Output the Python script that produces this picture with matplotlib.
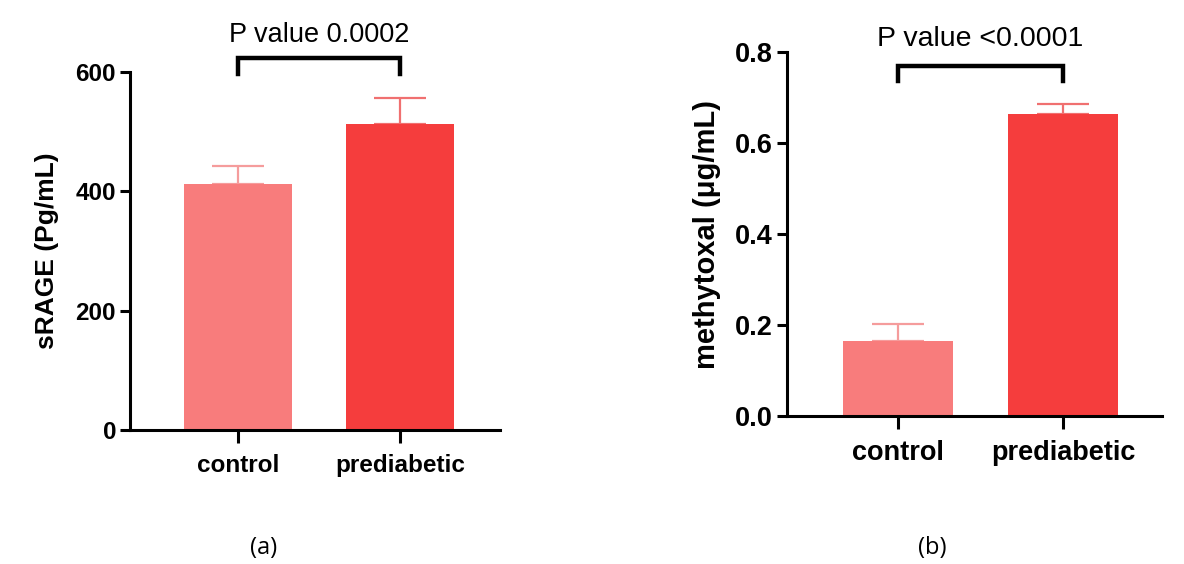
import matplotlib.pyplot as plt

groups = ["control", "prediabetic"]
srage_mean = [412, 513]
srage_err = [30, 43]
methyl_mean = [0.165, 0.664]
methyl_err = [0.037, 0.022]
bar_colors = ["#F87C7C", "#F53D3D"]
err_colors = ["#F59C9C", "#F07070"]

plt.rcParams['font.family'] = ['Liberation Sans', 'DejaVu Sans']

fig = plt.figure(figsize=(11.84, 5.64), dpi=100)
ax1 = fig.add_axes([0.1098, 0.2376, 0.3125, 0.6348])
ax2 = fig.add_axes([0.6647, 0.2624, 0.3167, 0.6454])


def draw_panel(ax, means, errs, ylim, yticks, ytl, ylabel, ptext, bracket_y, leg, ptext_gap, xlim,
               label, label_x, fs, yfs, pfs, lpad):
    x = range(len(groups))
    for i in x:
        ax.bar(i, means[i], width=0.667, color=bar_colors[i], zorder=2)
        ax.errorbar(i, means[i], yerr=[[0], [errs[i]]], color=err_colors[i],
                    capsize=19, elinewidth=1.6, capthick=1.6, zorder=1)
    ax.set_xlim(*xlim)
    ax.set_ylim(*ylim)
    ax.set_yticks(yticks)
    ax.set_yticklabels(ytl, fontsize=fs, fontweight='bold')
    ax.set_xticks(list(x))
    ax.set_xticklabels(groups, fontsize=fs, fontweight='bold')
    ax.set_ylabel(ylabel, fontsize=yfs, fontweight='bold', labelpad=lpad)
    for s in ['top', 'right']:
        ax.spines[s].set_visible(False)
    for s in ['left', 'bottom']:
        ax.spines[s].set_linewidth(2.2)
    ax.tick_params(axis='y', length=7, width=2.2, pad=3)
    ax.tick_params(axis='x', length=9, width=2.2, pad=8)
    ax.plot([0, 0, 1, 1], [bracket_y - leg, bracket_y, bracket_y, bracket_y - leg],
            color='black', lw=3.2, clip_on=False, solid_joinstyle='miter')
    ax.text(0.5, bracket_y + ptext_gap, ptext, ha='center', va='bottom', fontsize=pfs,
            clip_on=False)
    fig.text(label_x, 0.028, label, ha='center', va='center', fontsize=17,
             family=['Open Sans', 'DejaVu Sans'])


draw_panel(ax1, srage_mean, srage_err, (0, 600), [0, 200, 400, 600], ["0", "200", "400", "600"],
           "sRAGE (Pg/mL)", "P value 0.0002", 624, 28, 16, (-0.667, 1.617), "(a)", 264 / 1184,
           17.5, 19, 19.5, 12)
draw_panel(ax2, methyl_mean, methyl_err, (0, 0.8), [0.0, 0.2, 0.4, 0.6, 0.8],
           ["0.0", "0.2", "0.4", "0.6", "0.8"], "methytoxal (μg/mL)", "P value <0.0001",
           0.769, 0.033, 0.030, (-0.673, 1.6), "(b)", 932 / 1184, 19.5, 21, 20.5, 10)

fig.savefig("out.png", dpi=100)
